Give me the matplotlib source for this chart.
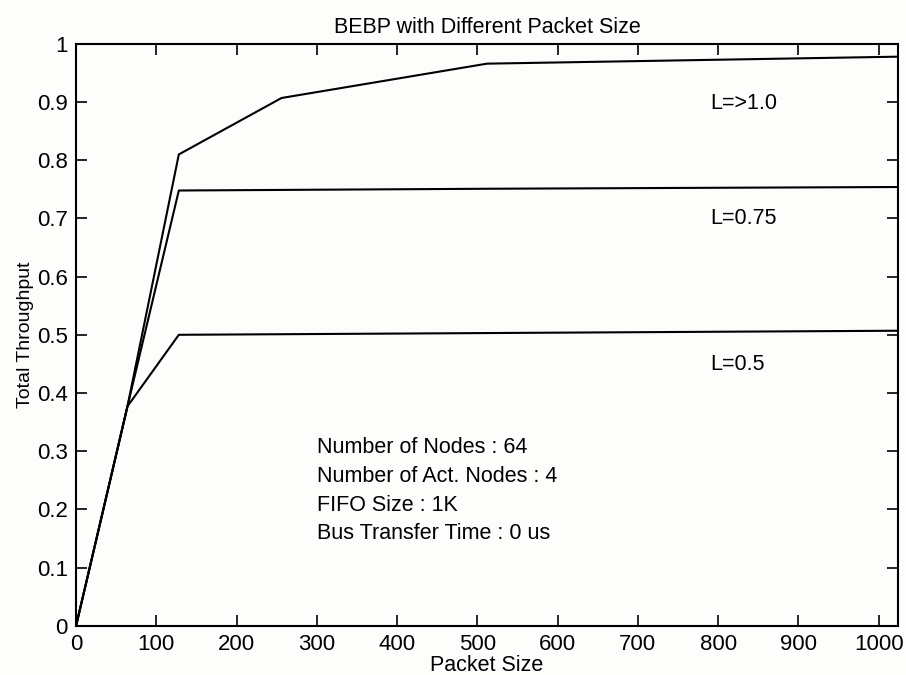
import matplotlib
matplotlib.use('Agg')
import matplotlib.pyplot as plt

plt.rcParams['font.family'] = ['Liberation Sans', 'DejaVu Sans']

# packet sizes and throughput
packet_size = [0, 64, 128, 256, 512, 1024]
thr_l10 = [0, 0.377, 0.81, 0.907, 0.966, 0.978]
thr_l075 = [0, 0.377, 0.748, 0.749, 0.751, 0.754]
thr_l05 = [0, 0.377, 0.50, 0.501, 0.503, 0.507]

curve_labels = ['L=>1.0', 'L=0.75', 'L=0.5']
label_x = 790
label_y = [0.898, 0.70, 0.449]

info_lines = ['Number of Nodes : 64', 'Number of Act. Nodes : 4',
              'FIFO Size : 1K', 'Bus Transfer Time : 0 us']
info_y = [0.306, 0.256, 0.206, 0.158]

fig = plt.figure(figsize=(9.06, 6.75), dpi=100, facecolor='#fdfdfb')
ax = fig.add_axes([0.084, 0.073, 0.907, 0.862])
ax.set_facecolor('#fdfdfb')

for ys in [thr_l10, thr_l075, thr_l05]:
    ax.plot(packet_size, ys, color='black', lw=1.5)

for lab, ly in zip(curve_labels, label_y):
    ax.text(label_x, ly, lab, fontsize=15.5, va='center', ha='left')

for txt, ty in zip(info_lines, info_y):
    ax.text(300, ty, txt, fontsize=15.5, va='center', ha='left')

ax.set_xlim(0, 1024)
ax.set_ylim(0, 1)
ax.set_xticks(range(0, 1001, 100))
ax.set_yticks([i / 10 for i in range(11)])
ax.set_yticklabels(['0', '0.1', '0.2', '0.3', '0.4', '0.5', '0.6', '0.7', '0.8', '0.9', '1'])
ax.tick_params(direction='in', length=8, width=1.2, top=True, right=True, labelsize=16)
ax.tick_params(axis='x', pad=6)
ax.tick_params(axis='y', pad=6)
for s in ax.spines.values():
    s.set_linewidth(1.5)

ax.set_title('BEBP with Different Packet Size', fontsize=15.5, pad=8)
ax.set_xlabel('Packet Size', fontsize=15.5, labelpad=0)
ax.set_ylabel('Total Throughput', fontsize=14, labelpad=2)

fig.savefig('out.png', dpi=100, facecolor=fig.get_facecolor())
